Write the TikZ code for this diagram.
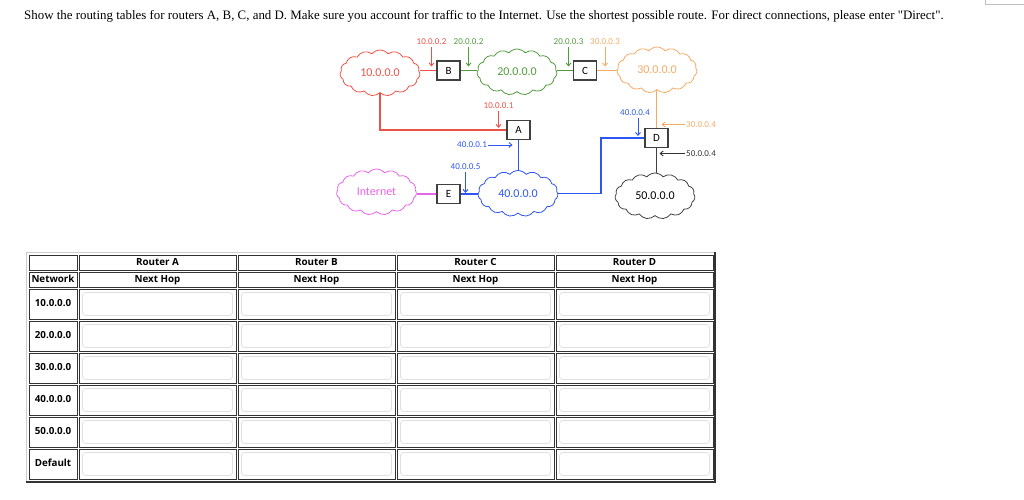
\documentclass[tikz,border=0pt]{standalone}
\usepackage{fontspec}
\setmainfont{Liberation Serif}
\newfontfamily\netfont{Carlito}
\newfontfamily\tabfont{Open Sans}
\usetikzlibrary{shapes.symbols, arrows.meta, positioning}
\definecolor{netred}{RGB}{235,82,70}
\definecolor{netgreen}{RGB}{80,155,60}
\definecolor{netorange}{RGB}{245,170,100}
\definecolor{netblue}{RGB}{45,85,240}
\definecolor{netpink}{RGB}{230,100,230}

\begin{document}
\begin{tikzpicture}[
    x=1pt, y=-1pt,
    netcloud/.style={cloud, cloud puffs=15, cloud puff arc=100, cloud ignores aspect,
                     minimum width=80pt, minimum height=46pt, inner sep=0pt,
                     line width=0.8pt, font=\netfont\fontsize{12}{14}\selectfont},
    router/.style={rectangle, draw=black!75, line width=1.1pt, fill=white,
                   minimum width=23pt, minimum height=19pt, inner sep=0pt,
                   font=\netfont\fontsize{11}{13}\selectfont},
    addr/.style={inner sep=0pt, font=\netfont\fontsize{9}{10}\selectfont},
    link/.style={line width=1.6pt},
    tip/.style={-{Straight Barb[length=3pt,width=5pt]}, line width=0.9pt},
    cell/.style={rectangle, draw=black!80, line width=1pt, inner sep=0pt,
                 text height=7pt, text depth=2pt,
                 minimum height=30pt, font=\tabfont\bfseries\fontsize{9.8}{11}\selectfont},
    inbox/.style={draw=black!12, line width=0.8pt, rounded corners=3pt}
]
\useasboundingbox (0,0) rectangle (1024,499);

\node[anchor=base west, inner sep=0pt, font=\fontsize{12.9}{15}\selectfont] (title) at (24,19)
    {Show the routing tables for routers A, B, C, and D. Make sure you account for traffic to the Internet. Use the shortest possible route. For direct connections, please enter \textquotedbl Direct\textquotedbl.};
\draw[black!25, line width=0.8pt] (985,-2) |- (1026,4);

% networks and routers
\node[netcloud, draw=netred, text=netred]       (n10)  at (380,73)    {10.0.0.0};
\node[netcloud, draw=netgreen, text=netgreen]   (n20)  at (517,72)    {20.0.0.0};
\node[netcloud, draw=netorange, text=netorange] (n30)  at (657,70)    {30.0.0.0};
\node[netcloud, draw=netpink, text=netpink]     (inet) at (376.5,192) {Internet};
\node[netcloud, draw=netblue, text=netblue]     (n40)  at (518,193.5) {40.0.0.0};
\node[netcloud, draw=black!75]                  (n50)  at (655,196)   {50.0.0.0};

\node[router] (B) at (448.5,70.5) {B};
\node[router] (C) at (585,70.5)   {C};
\node[router] (A) at (518.5,130)  {A};
\node[router] (E) at (448.5,194)  {E};
\node[router] (D) at (656.5,138)  {D};

\coordinate (bend) at (601,138);

\draw[link, netred]    (B.west) -- (B.west -| n10.east);
\draw[link, netgreen]  (B.east) -- (B.east -| n20.west);
\draw[link, netgreen]  (C.west) -- (C.west -| n20.east);
\draw[link, netorange] (C.east) -- (C.east -| n30.west);
\draw[link, netred]    (n10.south) |- (A.west);
\draw[link, netblue]   (A.south) -- (A.south |- n40.north);
\draw[link, netblue]   (n40.east) -| (bend) -- (D.west);
\draw[link, netorange] (D.north) -- (D.north |- n30.south);
\draw[link, black!75]  (D.south) -- (D.south |- n50.north);
\draw[link, netpink]   (E.west) -- (E.west -| inet.east);
\draw[link, netblue]   (E.east) -- (E.east -| n40.west);

% interface addresses
\node[addr, text=netred]                  (ip102) at (431.5,41.5) {10.0.0.2};
\node[addr, text=netgreen]                (ip202) at (468.5,41.5) {20.0.0.2};
\node[addr, text=netgreen]                (ip203) at (568.5,41.5) {20.0.0.3};
\node[addr, text=netorange]               (ip303) at (605,41.5)   {30.0.0.3};
\node[addr, text=netred]                  (ip101) at (498.5,105.5) {10.0.0.1};
\node[addr, text=netblue]                 (ip401) at (472,145)    {40.0.0.1};
\node[addr, text=netblue]                 (ip405) at (465.5,167)  {40.0.0.5};
\node[addr, text=netblue]                 (ip404) at (635,112.5)  {40.0.0.4};
\node[addr, text=netorange, anchor=west]  (ip304) at (686,124.5)  {30.0.0.4};
\node[addr, text=black!80, anchor=west]   (ip504) at (686,153.5)  {50.0.0.4};

\draw[tip, netred, shorten <=2pt, shorten >=4pt]    (ip102.south) -- (ip102.south |- B.west);
\draw[tip, netgreen, shorten <=2pt, shorten >=4pt]  (ip202.south) -- (ip202.south |- B.east);
\draw[tip, netgreen, shorten <=2pt, shorten >=4pt]  (ip203.south) -- (ip203.south |- C.west);
\draw[tip, netorange, shorten <=2pt, shorten >=4pt] (ip303.south) -- (ip303.south |- C.east);
\draw[tip, netred, shorten <=2pt, shorten >=2pt]    (ip101.south) -- (ip101.south |- A.west);
\draw[tip, netblue, shorten <=1pt, shorten >=6pt]   (ip401.east) -- (ip401.east -| A.south);
\draw[tip, netblue, shorten <=2pt, shorten >=1pt]   (ip405.south) -- (ip405.south |- E.east);
\draw[tip, netblue, shorten <=2pt, shorten >=2pt]   ([xshift=3pt]ip404.south) -- ([xshift=3pt]ip404.south |- D.west);
\draw[tip, netorange, shorten <=1pt, shorten >=5pt] (ip304.west) -- (ip304.west -| D.north);
\draw[tip, black!80, shorten <=1pt, shorten >=3pt]  (ip504.west) -- (ip504.west -| D.south);

% routing table
\draw[black!20, line width=1pt] (26,483) |- (716,252);
\draw[black!80, line width=2pt] (26,482) -| (715,252);
\node[cell, minimum width=48pt, minimum height=15pt] (hnet) at (53,262.5) {};
\node[cell, minimum width=48pt, minimum height=15pt] (nnet) at (53,279.5) {Network};
\foreach \col/\cx in {A/157.5, B/316.5, C/475.5, D/634.5} {
    \node[cell, minimum width=157pt, minimum height=15pt] (h\col) at (\cx,262.5) {Router \col};
    \node[cell, minimum width=157pt, minimum height=15pt] (n\col) at (\cx,279.5) {Next Hop};
}
\foreach \row/\ry/\lab in {10/304/10.0.0.0, 20/336/20.0.0.0, 30/368/30.0.0.0,
                           40/400/40.0.0.0, 50/432/50.0.0.0, def/464/Default} {
    \node[cell, minimum width=48pt] (r\row) at (53,\ry) {\lab};
    \foreach \col/\cx in {A/157.5, B/316.5, C/475.5, D/634.5} {
        \node[cell, minimum width=157pt] (c\col\row) at (\cx,\ry) {};
        \draw[inbox] ([shift={(4pt,-4pt)}]c\col\row.north west) rectangle ([shift={(-4pt,4pt)}]c\col\row.south east);
    }
}
\end{tikzpicture}
\end{document}
